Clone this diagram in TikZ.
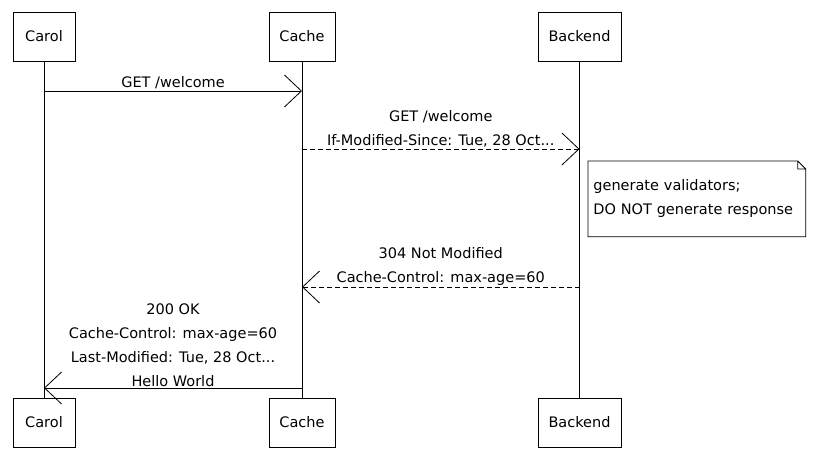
\documentclass[tikz,border=0pt]{standalone}
\usepackage{fontspec}
\setmainfont{DejaVu Sans}
\usetikzlibrary{arrows.meta}

\begin{document}
\begin{tikzpicture}[x=1pt,y=-1pt,line width=.8pt,font=\fontsize{14.5}{24}\selectfont,
    actor/.style={draw,minimum height=49pt,inner sep=0pt},
    msg/.style={-{Straight Barb[length=17pt,width=32pt]}},
    reply/.style={msg,dash pattern=on 5pt off 3pt},
    lbl/.style={midway,above=-2pt,align=center}]
  \useasboundingbox (0,0) rectangle (823,454);
  \node[actor,minimum width=62pt] (carol) at (44,36.5) {Carol};
  \node[actor,minimum width=66pt] (cache) at (302,36.5) {Cache};
  \node[actor,minimum width=83pt] (backend) at (579.5,36.5) {Backend};
  \node[actor,minimum width=62pt] (carolb) at (44,422.5) {Carol};
  \node[actor,minimum width=66pt] (cacheb) at (302,422.5) {Cache};
  \node[actor,minimum width=83pt] (backendb) at (579.5,422.5) {Backend};
  \draw (carol) -- (carolb);
  \draw (cache) -- (cacheb);
  \draw (backend) -- (backendb);
  % message ends on the lifelines
  \path (carol |- 0,91) coordinate (m1s) (cache |- 0,91) coordinate (m1e)
        (cache |- 0,149) coordinate (m2s) (backend |- 0,149) coordinate (m2e)
        (backend |- 0,287) coordinate (m3s) (cache |- 0,287) coordinate (m3e)
        (cache |- 0,388) coordinate (m4s) (carol |- 0,388) coordinate (m4e);
  \draw[msg] (m1s) -- (m1e) node[lbl] {GET /welcome};
  \draw[reply] (m2s) -- (m2e) node[lbl] {GET /welcome\\If-Modified-Since: Tue, 28 Oct...};
  \draw[reply] (m3s) -- (m3e) node[lbl] {304 Not Modified\\Cache-Control: max-age=60};
  \draw[msg] (m4s) -- (m4e) node[lbl] {200 OK\\Cache-Control: max-age=60\\Last-Modified: Tue, 28 Oct...\\Hello World};
  % note on the backend
  \node[anchor=north west,minimum width=217pt,minimum height=75pt,text width=207pt,
    inner xsep=5pt,align=left] (note) at (588,161) {generate validators;\\DO NOT generate response};
  \draw (note.north west) -- ([xshift=-8pt]note.north east) -- ([yshift=-8pt]note.north east)
    -- (note.south east) -- (note.south west) -- cycle
    ([xshift=-8pt]note.north east) |- ([yshift=-8pt]note.north east);
\end{tikzpicture}
\end{document}
